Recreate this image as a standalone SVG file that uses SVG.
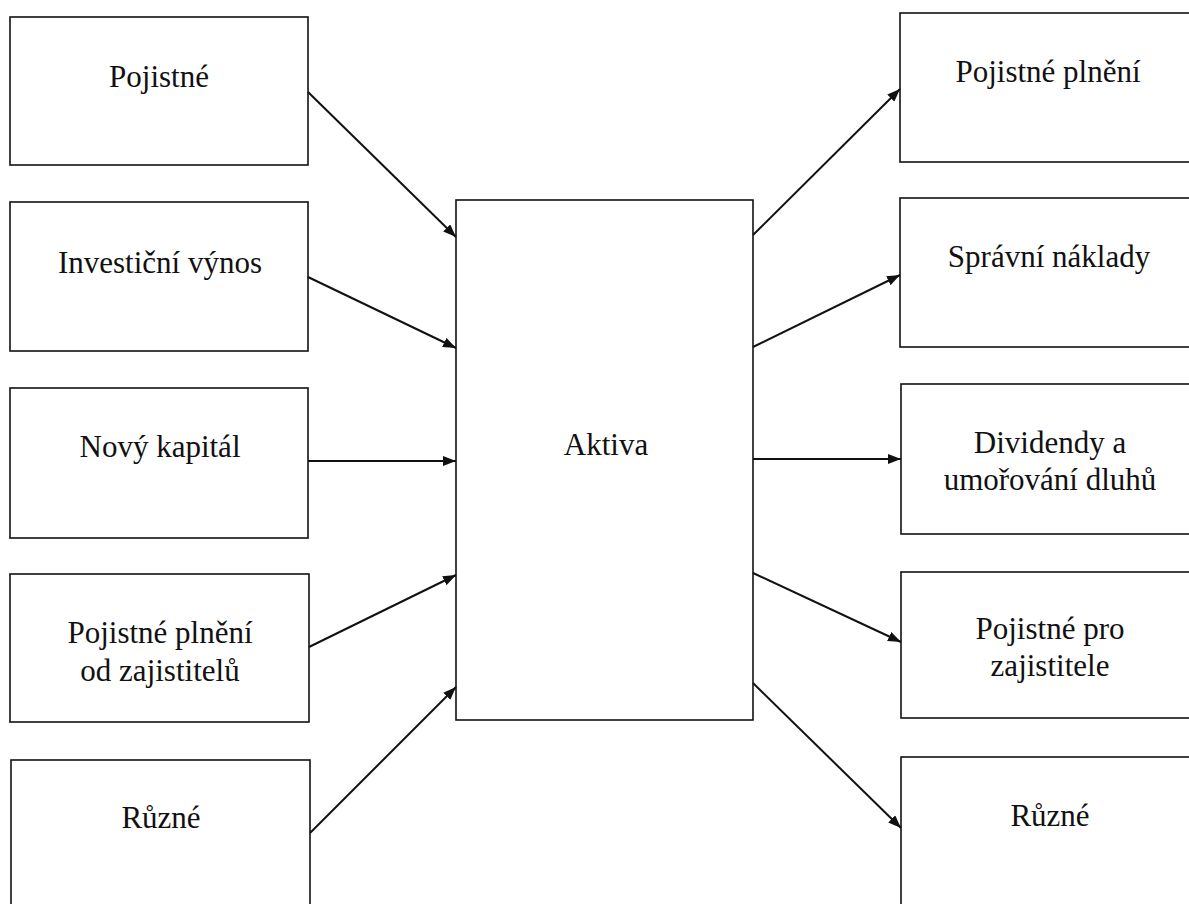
<svg xmlns="http://www.w3.org/2000/svg" width="1189" height="904" viewBox="0 0 1189 904">
<style>
.box{fill:#fff;stroke:#111;stroke-width:1.6}
.t{font-family:"Liberation Serif","Times New Roman",serif;font-size:31px;fill:#111;text-anchor:middle}
.c{stroke:#111;stroke-width:2;fill:none;marker-end:url(#ah)}
</style>
<defs>
<marker id="ah" markerUnits="userSpaceOnUse" markerWidth="14" markerHeight="10" refX="13" refY="5" orient="auto">
<path d="M0,0 L13,5 L0,10 z" fill="#111"/>
</marker>
</defs>
<rect width="1189" height="904" fill="#fff"/>
<g id="in1"><rect class="box" x="10" y="17" width="298" height="148"/><text class="t" x="159" y="87">Pojistné</text></g>
<g id="in2"><rect class="box" x="10" y="202" width="298" height="149"/><text class="t" x="160" y="273">Investiční výnos</text></g>
<g id="in3"><rect class="box" x="10" y="388" width="298" height="150"/><text class="t" x="160" y="457">Nový kapitál</text></g>
<g id="in4"><rect class="box" x="10" y="574" width="299" height="148"/><text class="t" x="160" y="643">Pojistné plnění</text><text class="t" x="160" y="681">od zajistitelů</text></g>
<g id="in5"><rect class="box" x="11" y="760" width="299" height="150"/><text class="t" x="161" y="828">Různé</text></g>
<g id="center"><rect class="box" x="456" y="200" width="297" height="520"/><text class="t" x="606" y="455">Aktiva</text></g>
<g id="out1"><rect class="box" x="900" y="13" width="296" height="149"/><text class="t" x="1048" y="82">Pojistné plnění</text></g>
<g id="out2"><rect class="box" x="900" y="198" width="296" height="149"/><text class="t" x="1049" y="267">Správní náklady</text></g>
<g id="out3"><rect class="box" x="901" y="384" width="295" height="150"/><text class="t" x="1050" y="453">Dividendy a</text><text class="t" x="1050" y="490">umořování dluhů</text></g>
<g id="out4"><rect class="box" x="901" y="572" width="295" height="146"/><text class="t" x="1050" y="639">Pojistné pro</text><text class="t" x="1050" y="676">zajistitele</text></g>
<g id="out5"><rect class="box" x="901" y="757" width="295" height="150"/><text class="t" x="1050" y="826">Různé</text></g>
<g id="connectors">
<line class="c" x1="308" y1="92" x2="456" y2="237"/>
<line class="c" x1="308" y1="277" x2="456" y2="348"/>
<line class="c" x1="308" y1="461" x2="456" y2="461"/>
<line class="c" x1="309" y1="647" x2="456" y2="575"/>
<line class="c" x1="310" y1="833" x2="456" y2="687"/>
<line class="c" x1="753" y1="235" x2="900" y2="89"/>
<line class="c" x1="753" y1="347" x2="900" y2="275"/>
<line class="c" x1="753" y1="459" x2="901" y2="459"/>
<line class="c" x1="753" y1="573" x2="901" y2="642"/>
<line class="c" x1="753" y1="683" x2="901" y2="828"/>
</g>
</svg>
